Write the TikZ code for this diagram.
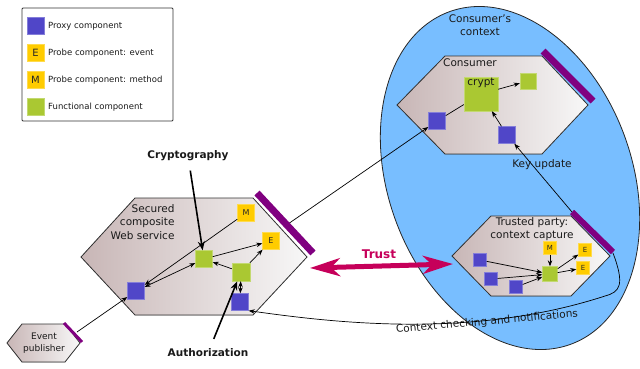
\documentclass[tikz,border=0pt]{standalone}
\usepackage{fontspec}
\setmainfont{DejaVu Sans}
\usepackage{xcolor}
\usetikzlibrary{arrows,arrows.meta,calc,positioning}

\definecolor{proxyblue}{RGB}{80,70,200}
\definecolor{probeyellow}{RGB}{255,204,0}
\definecolor{funcgreen}{RGB}{170,200,50}
\definecolor{barpurple}{RGB}{128,0,128}
\definecolor{ctxblue}{RGB}{120,190,255}
\definecolor{trustred}{RGB}{198,0,90}
\definecolor{hexleft}{RGB}{200,182,182}

\begin{document}
\begin{tikzpicture}[x=1pt, y=-1pt, >={Stealth[length=6pt,width=4.5pt]},
proxynode/.style={rectangle, fill=proxyblue, draw=proxyblue!70!white, line width=0.4pt, inner sep=0pt, minimum size=#1},
proxynode/.default=17pt,
funcnode/.style={rectangle, fill=funcgreen, draw=funcgreen!70!white, line width=0.4pt, inner sep=0pt, minimum size=#1},
funcnode/.default=17pt,
probenode/.style={rectangle, fill=probeyellow, draw=probeyellow!70!white, line width=0.4pt, inner sep=0pt, minimum size=#1, font=\fontsize{8}{8}\selectfont, text=black!85},
probenode/.default=17pt,
hexshape/.style={draw=black!80, line width=0.8pt, left color=hexleft, right color=white!97!black},
barline/.style={draw=barpurple, line width=#1},
barline/.default=7pt,
link/.style={draw=black, line width=0.7pt},
bigarrow/.style={draw=black, line width=1.6pt, -{Stealth[length=9pt,width=7pt]}},
maintext/.style={font=\fontsize{10.5}{13.3}\selectfont, align=center, text=black!90},
legendtext/.style={font=\fontsize{8.5}{10}\selectfont, anchor=west, inner sep=0pt, text=black!90},
boldtext/.style={font=\fontsize{10.5}{13}\selectfont\bfseries, text=black!90},
]
\useasboundingbox (0,0) rectangle (640,368);

%Legend
\draw[black!80, line width=0.8pt, rounded corners=1pt] (22,8) rectangle (173,121);
\node[proxynode] (legproxy) at (35.5,26) {};
\node[probenode, font=\fontsize{10}{10}\selectfont] (legevent) at (35.5,53) {E};
\node[probenode, font=\fontsize{10}{10}\selectfont] (legmethod) at (35.5,80) {M};
\node[funcnode] (legfunc) at (35.5,107) {};
\node[legendtext] (legproxytext) at (48,26) {Proxy component};
\node[legendtext] (legeventtext) at (48,53) {Probe component: event};
\node[legendtext] (legmethodtext) at (48,80) {Probe component: method};
\node[legendtext] (legfunctext) at (48,107) {Functional component};

%Consumer's context
\filldraw[fill=ctxblue, draw=black!85, line width=0.8pt, rotate around={20:(510,178)}] (510,178) ellipse [x radius=122pt, y radius=177pt];
\node[maintext] (ctxtext) at (480,25) {Consumer's\\context};

%Hexagons
\filldraw[hexshape] (81,257) -- (135,198) -- (253,198) -- (307,257) -- (253,315) -- (135,315) -- cycle;
\filldraw[hexshape] (397,105) -- (445,56) -- (542,56) -- (588,105) -- (542,154) -- (445,154) -- cycle;
\filldraw[hexshape] (452,256) -- (491,216) -- (571,216) -- (610,256) -- (571,296) -- (491,296) -- cycle;
\filldraw[hexshape] (7,343) -- (22,324) -- (65,324) -- (80,343) -- (65,362) -- (22,362) -- cycle;

%Texts
\node[maintext, align=right, anchor=east] (wstext) at (178,222) {Secured\\composite\\Web service};
\node[maintext] (ctext) at (470,63) {Consumer};
\node[maintext] (tptext) at (532,229) {Trusted party:\\context capture};
\node[maintext, font=\fontsize{9}{12}\selectfont] (eptext) at (44,343) {Event\\publisher};
\node[maintext] (keytext) at (542,165) {Key update};
\node[boldtext] (cryptolabel) at (188,156) {Cryptography};
\node[boldtext] (authlabel) at (208,353) {Authorization};
\node[font=\fontsize{12}{12}\selectfont\bfseries, text=trustred] (trustlabel) at (379,254) {Trust};
\node[maintext, rotate=5] (checktext) at (487,322) {Context checking and notifications};

%Web service components
\node[probenode] (wsmethod) at (246,213) {M};
\node[probenode] (wsevent) at (271,241) {E};
\node[funcnode] (wscrypt) at (204,259) {};
\node[funcnode, minimum size=18pt] (wsauth) at (241,272) {};
\node[proxynode] (wsproxyin) at (136,291) {};
\node[proxynode] (wsproxyout) at (240,302) {};

%Consumer components
\node[proxynode] (cproxyin) at (437,121) {};
\node[funcnode=34pt, label={[anchor=north, inner sep=1pt, maintext]north:crypt}] (ccrypt) at (481,94) {};
\node[funcnode=16pt] (cfunc) at (528,81) {};
\node[proxynode] (ckey) at (507,135) {};

%Trusted party components
\node[proxynode=13pt] (tpproxya) at (480,260) {};
\node[proxynode=13pt] (tpproxyb) at (491,279) {};
\node[proxynode=13pt] (tpproxyc) at (516,287) {};
\node[funcnode=15pt] (tpfunc) at (550,274) {};
\node[probenode=13pt, font=\fontsize{7}{7}\selectfont] (tpmethod) at (550,248) {M};
\node[probenode=13pt, font=\fontsize{7}{7}\selectfont] (tpeventa) at (585,250) {E};
\node[probenode=13pt, font=\fontsize{7}{7}\selectfont] (tpeventb) at (583,268) {E};

%Free ends on the bars
\coordinate (wsout) at (288,224);
\coordinate (tpbartop) at (572,212);
\coordinate (tpbarend) at (613,253);
\coordinate (epout) at (77,332);
\coordinate (trustl) at (310,268);
\coordinate (trustr) at (453,264);

%Links
\draw[link, ->] (wsmethod) -- (wsproxyin);
\draw[link, <->] (wscrypt) -- (wsproxyin);
\draw[link, ->] (wscrypt) -- (wsevent);
\draw[link, ->] (wsauth) -- (wscrypt);
\draw[link, ->] (wsauth) -- (wsevent);
\draw[link, <->] (wsauth) -- (wsproxyout);
\draw[link, ->] (epout) -- (wsproxyin);
\draw[link, ->] (wsout) -- (cproxyin);
\draw[link] (cproxyin) -- (ccrypt);
\draw[link, ->] (ccrypt) -- (cfunc);
\draw[link, ->] (ckey) -- (ccrypt);
\draw[link, ->] (tpbartop) -- (ckey);
\draw[link, ->] (tpproxya) -- (tpfunc);
\draw[link, ->] (tpproxyb) -- (tpfunc);
\draw[link, ->] (tpproxyc) -- (tpfunc);
\draw[link, ->] (tpmethod) -- (tpfunc);
\draw[link, ->] (tpfunc) -- (tpeventa);
\draw[link, ->] (tpfunc) -- (tpeventb);
\draw[link, ->] (tpbarend) .. controls (625,285) and (620,292) .. (605,296) .. controls (470,340) and (330,322) .. (wsproxyout.south east);

%Bars
\draw[barline] (257,193) -- (313,253);
\draw[barline] (543,51) -- (593,101);
\draw[barline=6pt] (572,212) -- (613,252);
\draw[barline=3pt] (64,323) -- (82,342);

%Big arrows
\draw[bigarrow, shorten <=6pt] (cryptolabel) -- (wscrypt);
\draw[bigarrow, shorten <=7pt] (authlabel) -- (wsauth);
\draw[draw=trustred, line width=5pt, {Stealth[length=30pt,width=18pt,inset=9pt]}-{Stealth[length=30pt,width=18pt,inset=9pt]}] (trustl) -- (trustr);
\end{tikzpicture}
\end{document}
